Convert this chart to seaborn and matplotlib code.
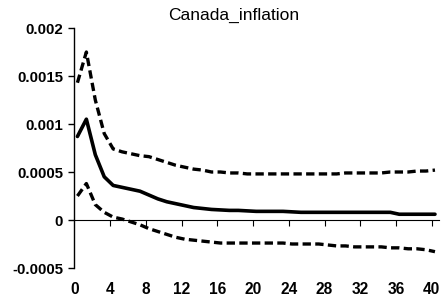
import numpy as np
import pandas as pd
import matplotlib
matplotlib.use("Agg")
import matplotlib.pyplot as plt
import seaborn as sns

periods = list(range(41))
mid = [0.00087, 0.00105, 0.00068, 0.00045, 0.00036, 0.00034, 0.00032, 0.00030, 0.00026, 0.00022,
       0.00019, 0.00017, 0.00015, 0.00013, 0.00012, 0.00011, 0.000105, 0.0001, 0.0001, 0.000095,
       0.00009, 0.00009, 0.00009, 0.00009, 0.000085, 0.00008, 0.00008, 0.00008, 0.00008, 0.00008,
       0.00008, 0.00008, 0.00008, 0.00008, 0.00008, 0.00008, 0.00006, 0.00006, 0.00006, 0.00006, 0.00006]
upper = [0.00143, 0.00175, 0.00125, 0.00090, 0.00074, 0.00071, 0.00069, 0.00067, 0.00066, 0.00063,
         0.00060, 0.00057, 0.00055, 0.00053, 0.00052, 0.00050, 0.00050, 0.00049, 0.00049, 0.00048,
         0.00048, 0.00048, 0.00048, 0.00048, 0.00048, 0.00048, 0.00048, 0.00048, 0.00048, 0.00048,
         0.00049, 0.00049, 0.00049, 0.00049, 0.00049, 0.00050, 0.00050, 0.00050, 0.00051, 0.00051, 0.00052]
lower = [0.00025, 0.00038, 0.00016, 0.00008, 0.00003, 0.00001, -0.00002, -0.00005, -0.00009, -0.00012,
         -0.00015, -0.00018, -0.00020, -0.00021, -0.00022, -0.00023, -0.00024, -0.00024, -0.00024, -0.00024,
         -0.00024, -0.00024, -0.00024, -0.00024, -0.00025, -0.00025, -0.00025, -0.00025, -0.00026, -0.00027,
         -0.00027, -0.00028, -0.00028, -0.00028, -0.00028, -0.00029, -0.00029, -0.00030, -0.00030, -0.00031, -0.00033]
xticks = [0, 4, 8, 12, 16, 20, 24, 28, 32, 36, 40]
yticks = [-0.0005, 0, 0.0005, 0.001, 0.0015, 0.002]
ytick_labels = ["-0.0005", "0", "0.0005", "0.001", "0.0015", "0.002"]
title = "Canada_inflation"

sns.set_style("white")
plt.rcParams['font.family'] = ['Liberation Sans', 'DejaVu Sans']

x = np.array(periods) + 0.35
df = pd.DataFrame({"x": x, "mid": mid, "upper": upper, "lower": lower})

fig = plt.figure(figsize=(4.46, 2.99), dpi=100)
ax = fig.add_axes([74.3 / 446, 1 - 268 / 299, (439 - 74.3) / 446, (268 - 28) / 299])

sns.lineplot(data=df, x="x", y="upper", ax=ax, color="black", lw=2.4)
sns.lineplot(data=df, x="x", y="lower", ax=ax, color="black", lw=2.4)
sns.lineplot(data=df, x="x", y="mid", ax=ax, color="black", lw=2.6)
ax.lines[0].set_linestyle((0, (2.5, 1.3)))
ax.lines[1].set_linestyle((0, (2.5, 1.3)))

ax.set_xlim(0, 40.8)
ax.set_ylim(-0.0005, 0.002)
ax.set_xlabel("")
ax.set_ylabel("")
ax.set_yticks(yticks)
ax.set_yticklabels(ytick_labels)
ax.set_xticks(xticks)
ax.set_xticklabels([str(v) for v in xticks])
for lab in ax.get_yticklabels():
    lab.set_fontweight("bold")
    lab.set_fontsize(10.8)
    lab.set_color("black")
for lab in ax.get_xticklabels():
    lab.set_fontweight("bold")
    lab.set_fontsize(11.2)
    lab.set_color("black")

for s in ["top", "right", "bottom"]:
    ax.spines[s].set_visible(False)
ax.spines["left"].set_color("black")
ax.spines["left"].set_linewidth(1.0)
ax.tick_params(axis="y", left=True, direction="out", length=4, width=1, color="black", pad=4)
ax.tick_params(axis="x", bottom=True, length=0, pad=10)

sec = ax.secondary_xaxis(0.2)
sec.set_xticks(xticks[1:])
sec.set_xticklabels([])
sec.spines["bottom"].set_color("black")
sec.spines["bottom"].set_linewidth(0.8)
sec.tick_params(axis="x", direction="out", length=4, width=0.8, color="black")

fig.text(234 / 446, 1 - 15 / 299, title, ha="center", va="center", fontsize=12.5, color="black")

fig.savefig("out.png", dpi=100)
